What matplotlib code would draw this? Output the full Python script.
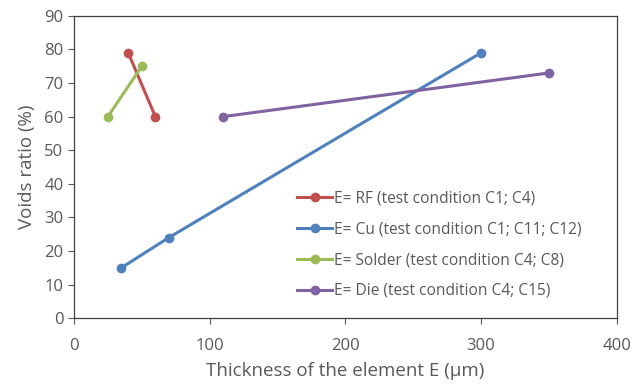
import matplotlib
matplotlib.use('Agg')
import matplotlib.pyplot as plt

plt.rcParams['font.family'] = ['Open Sans', 'DejaVu Sans']

rf_x = [40, 60]
rf_y = [79, 60]
cu_x = [35, 70, 300]
cu_y = [15, 24, 79]
solder_x = [25, 50]
solder_y = [60, 75]
die_x = [110, 350]
die_y = [60, 73]

labels = ['E= RF (test condition C1; C4)',
          'E= Cu (test condition C1; C11; C12)',
          'E= Solder (test condition C4; C8)',
          'E= Die (test condition C4; C15)']

grey = '#595959'

fig = plt.figure(figsize=(6.32, 3.87), dpi=100)
ax = fig.add_axes([0.117, 0.178, 0.859, 0.781])

ax.plot(rf_x, rf_y, color='#C0504D', lw=2.2, marker='o', ms=6, label=labels[0])
ax.plot(cu_x, cu_y, color='#4F81BD', lw=2.2, marker='o', ms=6, label=labels[1])
ax.plot(solder_x, solder_y, color='#9BBB59', lw=2.2, marker='o', ms=6, label=labels[2])
ax.plot(die_x, die_y, color='#8064A2', lw=2.2, marker='o', ms=6, label=labels[3])

ax.set_xlim(0, 400)
ax.set_ylim(0, 90)
ax.set_xticks(range(0, 401, 100))
ax.set_yticks(range(0, 91, 10))
ax.tick_params(colors=grey, labelsize=12, length=4, direction='out')
ax.tick_params(axis='x', pad=10)
for s in ax.spines.values():
    s.set_color('#404040')
    s.set_linewidth(0.9)

ax.set_xlabel('Thickness of the element E (\u03bcm)', color=grey, fontsize=13.5, labelpad=6)
ax.set_ylabel('Voids ratio (%)', color=grey, fontsize=13.5, labelpad=6)

leg = ax.legend(loc='upper left', bbox_to_anchor=(0.386, 0.468), frameon=False,
                fontsize=11.2, handlelength=2.2, handletextpad=0.15, labelspacing=0.95)
for t in leg.get_texts():
    t.set_color(grey)

fig.savefig('out.png', dpi=100)
